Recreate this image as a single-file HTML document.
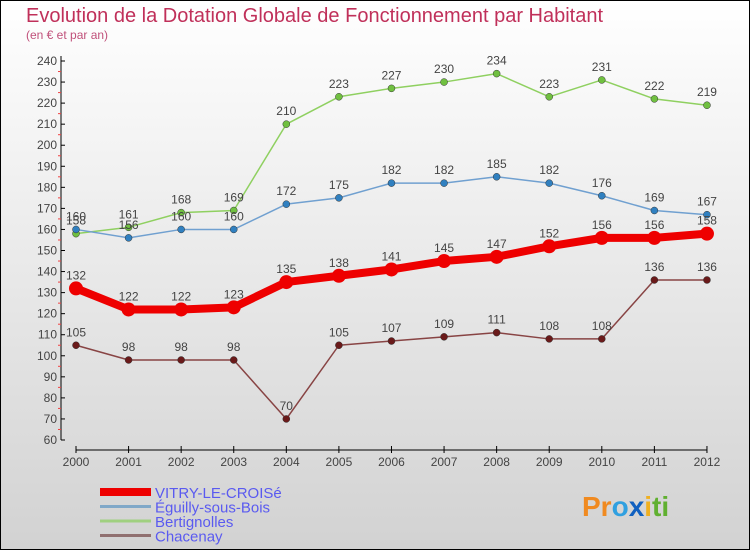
<!DOCTYPE html>
<html><head><meta charset="utf-8"><style>
body{margin:0}
svg{display:block;font-family:"Liberation Sans",sans-serif}
</style></head><body>
<svg width="750" height="550" viewBox="0 0 750 550">
<defs><linearGradient id="bg" x1="0" y1="0" x2="0" y2="1"><stop offset="0" stop-color="#ffffff"/><stop offset="1" stop-color="#d2d2d2"/></linearGradient></defs>
<rect x="0.5" y="0.5" width="749" height="549" fill="url(#bg)" stroke="#000"/>
<text x="26" y="22" font-size="20" fill="#c0305a">Evolution de la Dotation Globale de Fonctionnement par Habitant</text>
<text x="26" y="39" font-size="12" fill="#c0507a">(en € et par an)</text>
<g id="axes"></g>
<g id="series"></g>
<g id="legend"></g>
<text x="582" y="516" font-size="28" font-weight="bold"><tspan fill="#f08a20">Pr</tspan><tspan fill="#30a0e0">o</tspan><tspan fill="#1060c0">x</tspan><tspan fill="#f0b020">i</tspan><tspan fill="#60b030">ti</tspan></text>
</svg>
<script>
const years=["2000","2001","2002","2003","2004","2005","2006","2007","2008","2009","2010","2011","2012"];
const vitry=[132,122,122,123,135,138,141,145,147,152,156,156,158];
const eguilly=[160,156,160,160,172,175,182,182,185,182,176,169,167];
const bertignolles=[158,161,168,169,210,223,227,230,234,223,231,222,219];
const chacenay=[105,98,98,98,70,105,107,109,111,108,108,136,136];
const yTicks=[60,70,80,90,100,110,120,130,140,150,160,170,180,190,200,210,220,230,240];
const NS="http://www.w3.org/2000/svg";
const x=i=>76+i*52.58;
const y=v=>440-(v-60)*(379/180);
function mk(tag,attrs,parent){const e=document.createElementNS(NS,tag);for(const k in attrs)e.setAttribute(k,attrs[k]);parent.appendChild(e);return e;}
const ax=document.getElementById('axes');
let a=mk('line',{x1:61,y1:56,x2:61,y2:440,stroke:'#000'},ax);


a=mk('line',{x1:76,y1:450,x2:707,y2:450,stroke:'#000'},ax);


yTicks.forEach(v=>{
  mk('line',{x1:61,y1:y(v),x2:65,y2:y(v),stroke:'#000'},ax);
  if(v<240) mk('line',{x1:58,y1:y(v+5),x2:61,y2:y(v+5),stroke:'#f04040'},ax);
  const t=mk('text',{x:57,y:y(v)+4,'font-size':12,'text-anchor':'end',fill:'#444'},ax);
  t.textContent=v;
  
  
});
years.forEach((yr,i)=>{
  mk('line',{x1:x(i),y1:446,x2:x(i),y2:453,stroke:'#000'},ax);
  const t=mk('text',{x:x(i),y:466,'font-size':12,'text-anchor':'middle',fill:'#444'},ax);
  t.textContent=yr;
  
  
});
const sg=document.getElementById('series');
const defs=[
 {name:'bertignolles',data:bertignolles,color:'#8fd060',dot:'#70c040',w:1.5,r:3.5},
 {name:'eguilly',data:eguilly,color:'#70a0d0',dot:'#3080c0',w:1.5,r:3.5},
 {name:'chacenay',data:chacenay,color:'#884444',dot:'#6a1a1a',w:1.5,r:3.5},
 {name:'vitry',data:vitry,color:'#ee0000',dot:'#ee0000',w:8,r:7}
];
defs.forEach(s=>{
  const g=mk('g',{},sg);
  
  
  const pl=mk('polyline',{points:s.data.map((v,i)=>x(i)+','+y(v)).join(' '),fill:'none',stroke:s.color,'stroke-width':s.w,'stroke-linejoin':'round'},g);
  
  
  s.data.forEach((v,i)=>{
    const c=mk('circle',{cx:x(i),cy:y(v),r:s.r,fill:s.dot,stroke:s.w>2?'none':'#333','stroke-width':0.5},g);
    
    
    const t=mk('text',{x:x(i),y:y(v)-9,'font-size':12,'text-anchor':'middle',fill:'#444'},g);
    t.textContent=v;
    
    
  });
});
const lg=document.getElementById('legend');
const leg=[['VITRY-LE-CROISé','#ee0000',8],['Éguilly-sous-Bois','#80a8c8',3],['Bertignolles','#a0d080',3],['Chacenay','#907070',3]];
leg.forEach((l,i)=>{
  const yy=492+i*14.5;
  const ln=mk('line',{x1:100,y1:yy,x2:151,y2:yy,stroke:l[1],'stroke-width':l[2]},lg);
  
  
  const t=mk('text',{x:155,y:yy+6,'font-size':15,fill:'#5a5af0'},lg);
  t.textContent=l[0];
  
  
});
</script>
</body></html>
